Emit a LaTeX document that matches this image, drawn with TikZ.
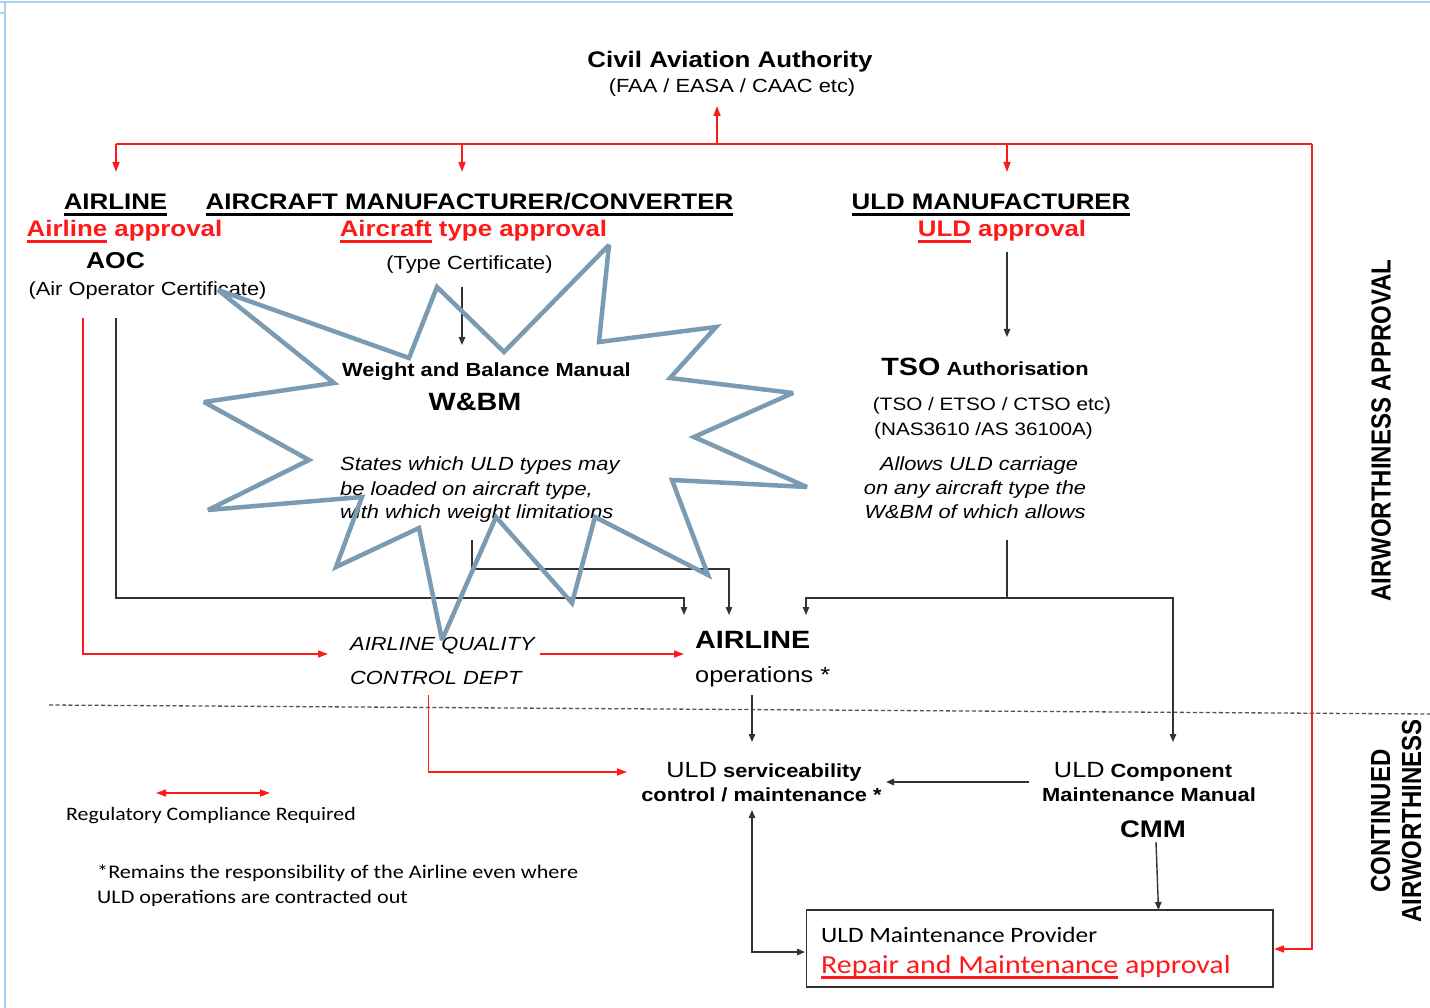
\documentclass[tikz,border=0pt]{standalone}
\usepackage{fontspec}
\setmainfont{Liberation Sans}[FakeStretch=1.15]
\newfontfamily\calibrifont{Carlito}[FakeStretch=1.15]
\newfontfamily\sidefont{Liberation Sans}[FakeStretch=0.87]
\usetikzlibrary{arrows.meta}
\definecolor{framec}{HTML}{A9D3F0}
\definecolor{starc}{HTML}{7B9BB3}
\definecolor{linec}{HTML}{333333}
\definecolor{regred}{HTML}{FF1A1A}
\newcommand\fsz[1]{\fontsize{#1}{#1}\selectfont}
% thick underline drawn under a word
\newcommand\ulbar[1]{\setbox0=\hbox{#1}\rlap{\rule[-6pt]{\wd0}{3pt}}\box0\relax}

\begin{document}
\begin{tikzpicture}[x=1pt,y=-1pt,
  txt/.style={inner sep=0pt, anchor=base},
  ltxt/.style={inner sep=0pt, anchor=base west},
  conn/.style={draw=linec, line width=1.4pt},
  arr/.style={conn, -{Triangle[length=8pt,width=6.5pt]}},
  darr/.style={conn, {Triangle[length=8pt,width=6.5pt]}-{Triangle[length=8pt,width=6.5pt]}},
  rconn/.style={draw=regred, line width=1.5pt},
  rarr/.style={rconn, -{Triangle[length=10pt,width=7pt]}},
  rdarr/.style={rconn, {Triangle[length=10pt,width=7pt]}-{Triangle[length=10pt,width=7pt]}},
  head/.style={txt, font=\fsz{22.5}\bfseries},
  apprv/.style={txt, font=\fsz{22.5}\bfseries, text=regred},
  body/.style={txt, font=\fsz{19}},
  note/.style={ltxt, font=\fsz{19}\itshape},
  cnote/.style={txt, font=\fsz{19}\itshape},
  calib/.style={ltxt, font=\calibrifont\fsz{19.3}},
  side/.style={inner sep=0pt, rotate=90, align=center, font=\sidefont\fontsize{27.6}{31}\selectfont\bfseries},
  burst/.style={draw=starc, line width=4.5pt, line join=miter, miter limit=3}
  ]
\useasboundingbox (0,0) rectangle (1430,1008);

% page frame
\draw[framec, line width=2.5pt] (0,2) -- (1430,2);
\draw[framec, line width=2pt] (5,2) -- (5,1008);
\draw[framec, line width=1.5pt] (0,13) -- (5,13);

% authority
\node[head] (caa) at (730,68) {Civil Aviation Authority};
\node[body] (caasub) at (732,93) {(FAA / EASA / CAAC etc)};

% approval holders
\node[head] (hAir) at (115.5,210) {\ulbar{AIRLINE}};
\node[head] (hMfr) at (469.5,210) {\ulbar{AIRCRAFT MANUFACTURER/CONVERTER}};
\node[head] (hUld) at (991,210) {\ulbar{ULD MANUFACTURER}};

\node[apprv] (apAir) at (124.5,237) {\ulbar{Airline} approval};
\node[apprv] (apMfr) at (473.5,237) {\ulbar{Aircraft} type approval};
\node[apprv] (apUld) at (1002,237) {\ulbar{ULD} approval};

\node[txt, font=\fsz{23}\bfseries] (aoc) at (115.5,269) {AOC};
\node[body] (aocsub) at (147.5,296) {(Air Operator Certificate)};
\node[body] (tcert) at (469.5,270) {(Type Certificate)};

% weight and balance manual
\node[txt, font=\fsz{19}\bfseries] (wbm) at (486.5,377) {Weight and Balance Manual};
\node[txt, font=\fsz{25}\bfseries] (wbmabbr) at (475,410) {W\&BM};
\node[note] (wbm1) at (340,470) {States which ULD types may};
\node[note] (wbm2) at (340,495) {be loaded on aircraft type,};
\node[note] (wbm3) at (340,518) {with which weight limitations};

% TSO authorisation
\node[txt, font=\fsz{19}\bfseries] (tso) at (985,375) {{\fsz{25}TSO} Authorisation};
\node[txt, font=\fsz{18}] (tso1) at (992,410) {(TSO / ETSO / CTSO etc)};
\node[txt, font=\fsz{18}] (tso2) at (983.5,435) {(NAS3610 /AS 36100A)};
\node[cnote] (tso3) at (979,470) {Allows ULD carriage};
\node[cnote] (tso4) at (975,494) {on any aircraft type the};
\node[cnote] (tso5) at (975,518) {W\&BM of which allows};

% airline side
\node[note] (aqc1) at (350,650) {AIRLINE QUALITY};
\node[note] (aqc2) at (350,684) {CONTROL DEPT};
\node[ltxt, font=\fsz{25}\bfseries] (ops1) at (695,648) {AIRLINE};
\node[ltxt, font=\fsz{22}] (ops2) at (695,682) {operations *};

% continued airworthiness
\node[txt, font=\fsz{19}\bfseries] (svc1) at (764,777) {{\mdseries\fsz{22}ULD} serviceability};
\node[txt, font=\fsz{19}\bfseries] (svc2) at (761.5,801) {control / maintenance *};
\node[txt, font=\fsz{19}\bfseries] (cmm1) at (1143,777) {{\mdseries\fsz{22}ULD} Component};
\node[txt, font=\fsz{19}\bfseries] (cmm2) at (1149,801) {Maintenance Manual};
\node[txt, font=\fsz{24}\bfseries] (cmm3) at (1153,837) {CMM};

\node[draw=linec, line width=1.6pt, minimum width=466.5pt, minimum height=77pt, inner sep=0pt] (prov) at (1039.75,948.5) {};
\node[ltxt, font=\calibrifont\fsz{22}] (prov1) at (821,942) {ULD Maintenance Provider};
\node[ltxt, font=\calibrifont\fsz{26}, text=regred] (prov2) at (821,973) {\ulbar{Repair and Maintenance} approval};

% legend and footnote
\draw[rdarr] (156,793) -- (270,793);
\node[txt, font=\calibrifont\fsz{19}] (legend) at (211,820) {Regulatory Compliance Required};
\node[calib] (foot1) at (97,878) {*Remains the responsibility of the Airline even where};
\node[calib] (foot2) at (97,903) {ULD operations are contracted out};

% phase labels
\node[side] (phaseA) at (1381,430.5) {AIRWORTHINESS APPROVAL};
\node[side] (phaseB) at (1396,821) {CONTINUED\\AIRWORTHINESS};

% phase divider
\draw[linec!85, line width=1.3pt, dash pattern=on 4pt off 2.5pt] (49,705) -- (1430,714);

% connector points
\coordinate (hub) at (717,144);
\coordinate (caaIn) at (717,106);
\coordinate (busL) at (116,144);
\coordinate (busM) at (462,144);
\coordinate (busU) at (1007,144);
\coordinate (busR) at (1312,144);
\coordinate (airIn) at (116,172);
\coordinate (mfrIn) at (462,172);
\coordinate (uldIn) at (1007,172);
\coordinate (tcOut) at (462,287);
\coordinate (wbmIn) at (462,345);
\coordinate (apUldOut) at (1007,252);
\coordinate (tsoIn) at (1007,337);
\coordinate (aocOut) at (116,318);
\coordinate (aocRed) at (83,318);
\coordinate (opsInA) at (684,615);
\coordinate (opsInB) at (729,615);
\coordinate (opsInC) at (806,615);
\coordinate (wbmOut) at (472,540);
\coordinate (wbmBend) at (472,569);
\coordinate (tsoOut) at (1007,540);
\coordinate (tsoJoin) at (1007,598);
\coordinate (cmmIn) at (1173,742);
\coordinate (aqcIn) at (328,654);
\coordinate (aqcOut) at (540,654);
\coordinate (opsRedIn) at (684,654);
\coordinate (aqcDown) at (428.6,695);
\coordinate (svcRedIn) at (627,772);
\coordinate (opsOut) at (752,695);
\coordinate (svcIn) at (752,742);
\coordinate (cmmOut) at (1029,782);
\coordinate (svcSide) at (886,782);
\coordinate (cmmDown) at (1156,842);
\coordinate (provTop) at (1158.5,910);
\coordinate (svcBottom) at (752,810);
\coordinate (provLeft) at (805,952);
\coordinate (provRight) at (1274,949);

% regulator links
\draw[rconn] (busL) -- (busR);
\draw[rarr] (hub) -- (caaIn);
\draw[rarr] (busL) -- (airIn);
\draw[rarr] (busM) -- (mfrIn);
\draw[rarr] (busU) -- (uldIn);
\draw[rarr] (busR) |- (provRight);

% documents and approvals
\draw[arr] (tcOut) -- (wbmIn);
\draw[arr] (apUldOut) -- (tsoIn);
\draw[arr] (aocOut) |- (opsInA |- 0,598) -- (opsInA);
\draw[arr] (wbmOut) -- (wbmBend) -| (opsInB);
\draw[conn] (tsoOut) -- (tsoJoin);
\draw[arr] (tsoJoin) -| (opsInC);
\draw[arr] (tsoJoin) -| (cmmIn);

% compliance links
\draw[rarr] (aocRed) |- (aqcIn);
\draw[rarr] (aqcOut) -- (opsRedIn);
\draw[rarr] (aqcDown) |- (svcRedIn);

% maintenance links
\draw[arr] (opsOut) -- (svcIn);
\draw[arr] (cmmOut) -- (svcSide);
\draw[arr] (cmmDown) -- (provTop);
\draw[darr] (svcBottom) |- (provLeft);

% burst over the weight and balance manual
\draw[burst] (218,290) -- (409,358) -- (437,287) -- (504,352) -- (609,245)
  -- (599,342) -- (716,327) -- (670,378) -- (793,393) -- (694,437)
  -- (807,487) -- (672,480) -- (708,575) -- (595,517) -- (572,603)
  -- (496,517) -- (442,640) -- (419,528) -- (336,567) -- (362,497)
  -- (208,510) -- (309,460) -- (204,402) -- (334,383) -- cycle;
\end{tikzpicture}
\end{document}
